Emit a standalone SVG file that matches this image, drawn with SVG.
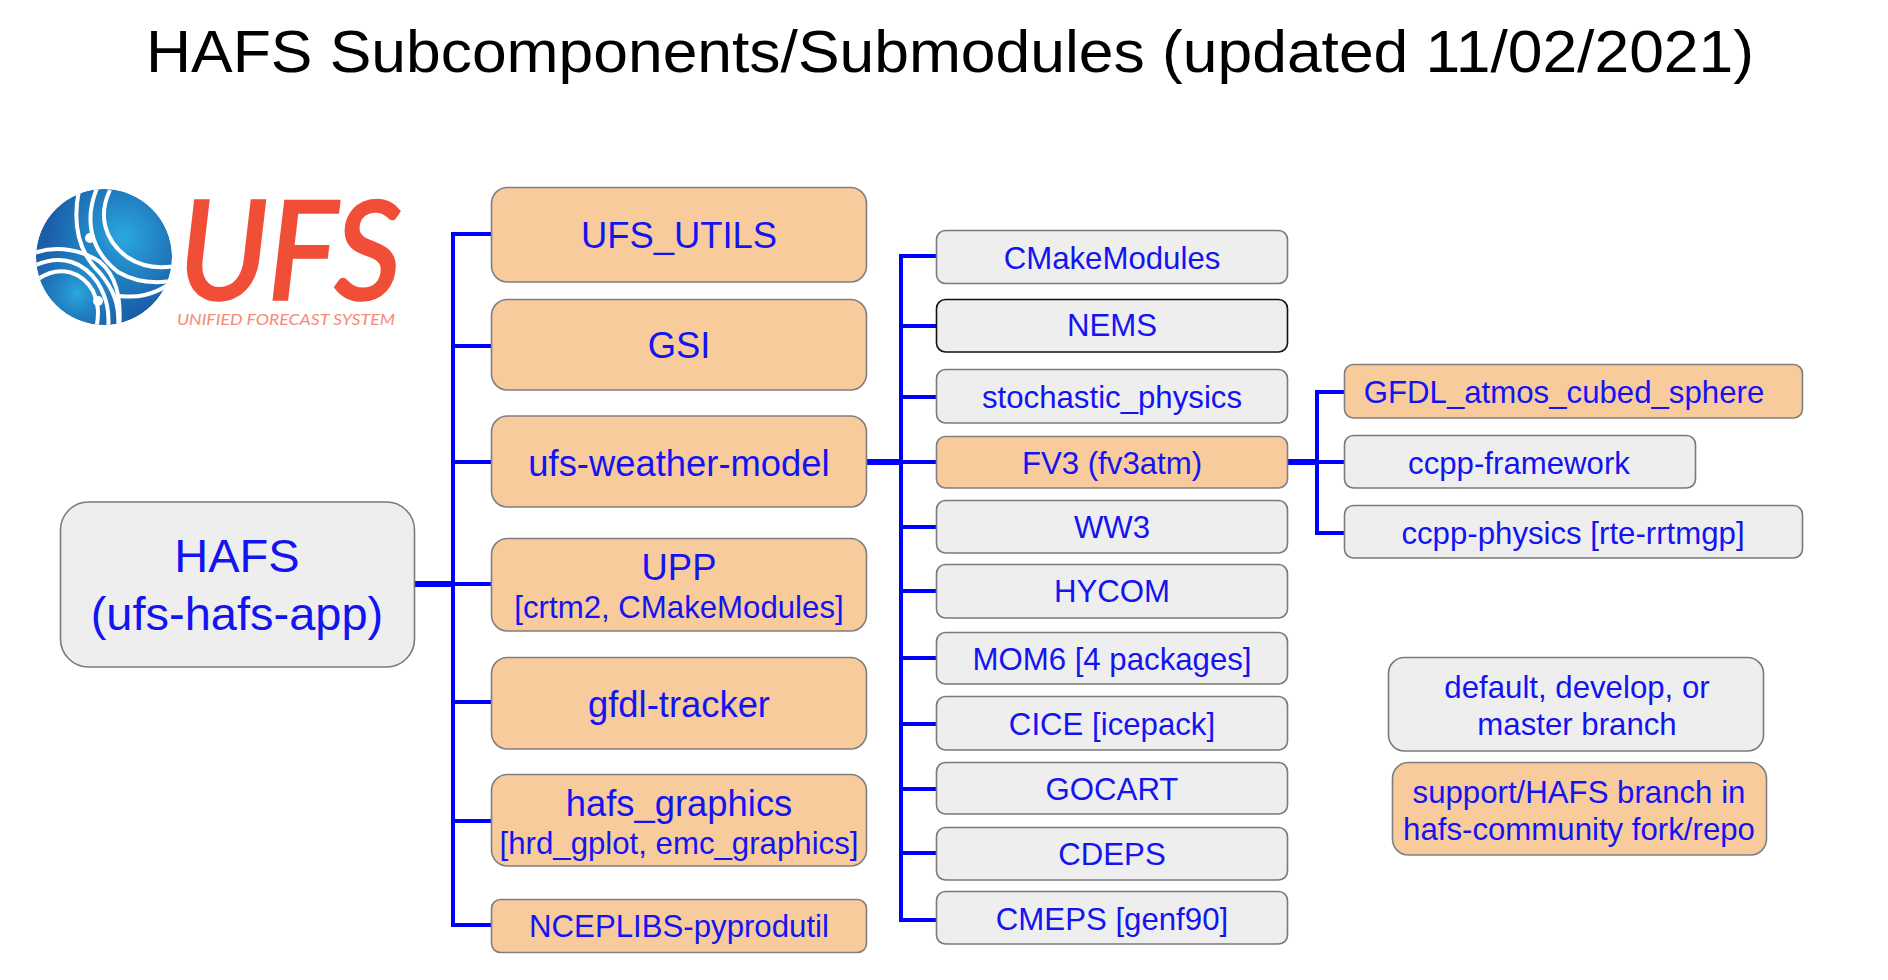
<svg xmlns="http://www.w3.org/2000/svg" width="1888" height="980" viewBox="0 0 1888 980">
<style>
text{font-family:"Liberation Sans",Arial,sans-serif;fill:#1414f0;text-anchor:middle}
.g{fill:#eeeeee;stroke:#7a7a7a;stroke-width:1.6}
.o{fill:#f8cb9c;stroke:#7f7f7f;stroke-width:1.6}
.c{fill:none;stroke:#0000ff;stroke-width:4}
.t{fill:none;stroke:#0000ff;stroke-width:6}
.a{fill:none;stroke:#fff;stroke-width:4}
.s{font-size:31.2px}.m{font-size:36.4px}.l{font-size:47px}
</style>
<defs>
<radialGradient id="g1" gradientUnits="userSpaceOnUse" cx="123" cy="237" r="75"><stop offset="0" stop-color="#2aa8df"/><stop offset="1" stop-color="#1a5ea8"/></radialGradient>
<radialGradient id="g2" gradientUnits="userSpaceOnUse" cx="77" cy="293" r="62"><stop offset="0" stop-color="#2aa8df"/><stop offset="1" stop-color="#1c6cb4" stop-opacity="0"/></radialGradient>
<clipPath id="gc"><circle cx="104" cy="257" r="68"/></clipPath>
</defs>
<rect width="1888" height="980" fill="#fff"/>
<text x="950" y="72" font-size="60" style="fill:#000" textLength="1608" lengthAdjust="spacingAndGlyphs">HAFS Subcomponents/Submodules (updated 11/02/2021)</text>
<g id="logo">
<g clip-path="url(#gc)">
<circle cx="104" cy="257" r="68" fill="url(#g1)"/>
<circle cx="104" cy="257" r="68" fill="url(#g2)"/>
<path class="a" d="M110 190C98 215 104 240 127 257C142 267 158 269 175 266"/>
<path class="a" d="M97 188C84 220 90 250 118 272C135 282 152 284 172 281"/>
<path class="a" d="M79 190C72 225 78 252 100 273C114 290 120 305 118 330"/>
<path class="a" d="M34 253C58 245 82 250 100 262C115 275 122 295 119 330"/>
<path class="a" d="M36 265C62 254 84 262 98 283C106 297 110 310 108 330"/>
<path class="a" d="M38 279C60 264 82 272 93 291C99 304 99 315 96 330"/>
<path class="a" d="M120 296C138 298 152 295 168 285"/>
<circle cx="90" cy="238" r="5" fill="#fff"/>
<circle cx="98" cy="301" r="5" fill="#fff"/>
</g>
<text x="290" y="299" font-size="136" font-style="italic" stroke="#f04e37" stroke-width="3.5" style="font-family:Lato,'Liberation Sans',sans-serif;fill:#f04e37" textLength="222" lengthAdjust="spacingAndGlyphs">UFS</text>
<text x="286" y="325" font-size="15.5" font-style="italic" style="font-family:Lato,'Liberation Sans',sans-serif;fill:#f58a78" textLength="218" lengthAdjust="spacingAndGlyphs">UNIFIED FORECAST SYSTEM</text>
</g>
<g id="connectors">
<path class="c" d="M491 234H453V925H491M453 346H491M453 462H491M453 584H491M453 702H491M453 821H491"/>
<path class="t" d="M414 584H453"/>
<path class="c" d="M936 256H901V920H936M901 326H936M901 397H936M901 462H936M901 527H936M901 591H936M901 658H936M901 724H936M901 789H936M901 853H936"/>
<path class="t" d="M866 462H901"/>
<path class="c" d="M1344 392H1317V533H1344M1317 462H1344"/>
<path class="t" d="M1287 462H1317"/>
</g>
<g id="n-hafs"><rect class="g" x="60.500" y="502" width="354" height="165" rx="28"/><text class="l" x="237" y="572">HAFS</text><text class="l" x="237" y="630">(ufs-hafs-app)</text></g>
<g id="n-ufs-utils"><rect class="o" x="491.500" y="187.500" width="375" height="94.500" rx="16"/><text class="m" x="679" y="248">UFS_UTILS</text></g>
<g id="n-gsi"><rect class="o" x="491.500" y="299.500" width="375" height="90.500" rx="16"/><text class="m" x="679" y="358">GSI</text></g>
<g id="n-ufs-weather-model"><rect class="o" x="491.500" y="416" width="375" height="91" rx="16"/><text class="m" x="679" y="476">ufs-weather-model</text></g>
<g id="n-upp"><rect class="o" x="491.500" y="538.500" width="375" height="92.500" rx="16"/><text class="m" x="679" y="580">UPP</text><text class="s" x="679" y="618">[crtm2, CMakeModules]</text></g>
<g id="n-gfdl-tracker"><rect class="o" x="491.500" y="657.500" width="375" height="91.500" rx="16"/><text class="m" x="679" y="717">gfdl-tracker</text></g>
<g id="n-hafs-graphics"><rect class="o" x="491.500" y="774.500" width="375" height="91.500" rx="16"/><text class="m" x="679" y="816">hafs_graphics</text><text class="s" x="679" y="854">[hrd_gplot, emc_graphics]</text></g>
<g id="n-nceplibs"><rect class="o" x="491.500" y="899.500" width="375" height="53" rx="9"/><text class="s" x="679" y="937">NCEPLIBS-pyprodutil</text></g>
<g id="n-cmakemodules"><rect class="g" x="936.500" y="230.500" width="351" height="53" rx="9"/><text class="s" x="1112" y="268.500">CMakeModules</text></g>
<g id="n-nems"><rect class="g" x="936.500" y="299.500" width="351" height="52.500" rx="9" style="stroke:#111"/><text class="s" x="1112" y="336">NEMS</text></g>
<g id="n-stochastic"><rect class="g" x="936.500" y="369.500" width="351" height="53.500" rx="9"/><text class="s" x="1112" y="408">stochastic_physics</text></g>
<g id="n-fv3"><rect class="o" x="936.500" y="436.500" width="351" height="51.500" rx="9"/><text class="s" x="1112" y="473.500">FV3 (fv3atm)</text></g>
<g id="n-ww3"><rect class="g" x="936.500" y="500.500" width="351" height="52.500" rx="9"/><text class="s" x="1112" y="538">WW3</text></g>
<g id="n-hycom"><rect class="g" x="936.500" y="564.500" width="351" height="53.500" rx="9"/><text class="s" x="1112" y="602">HYCOM</text></g>
<g id="n-mom6"><rect class="g" x="936.500" y="632.500" width="351" height="51.500" rx="9"/><text class="s" x="1112" y="670">MOM6 [4 packages]</text></g>
<g id="n-cice"><rect class="g" x="936.500" y="696.500" width="351" height="53.500" rx="9"/><text class="s" x="1112" y="735">CICE [icepack]</text></g>
<g id="n-gocart"><rect class="g" x="936.500" y="762.500" width="351" height="51.500" rx="9"/><text class="s" x="1112" y="800">GOCART</text></g>
<g id="n-cdeps"><rect class="g" x="936.500" y="827.500" width="351" height="52.500" rx="9"/><text class="s" x="1112" y="865">CDEPS</text></g>
<g id="n-cmeps"><rect class="g" x="936.500" y="891.500" width="351" height="52.500" rx="9"/><text class="s" x="1112" y="930">CMEPS [genf90]</text></g>
<g id="n-gfdl-atmos"><rect class="o" x="1344.500" y="364.500" width="458" height="53.500" rx="9"/><text class="s" x="1564" y="403">GFDL_atmos_cubed_sphere</text></g>
<g id="n-ccpp-framework"><rect class="g" x="1344.500" y="435.500" width="351" height="52.500" rx="9"/><text class="s" x="1519" y="473.500">ccpp-framework</text></g>
<g id="n-ccpp-physics"><rect class="g" x="1344.500" y="505.500" width="458" height="52.500" rx="9"/><text class="s" x="1573" y="544">ccpp-physics [rte-rrtmgp]</text></g>
<g id="n-legend-default"><rect class="g" x="1388.500" y="657.500" width="375" height="93.500" rx="16"/><text class="s" x="1577" y="698">default, develop, or</text><text class="s" x="1577" y="735">master branch</text></g>
<g id="n-legend-support"><rect class="o" x="1392.500" y="762.500" width="374" height="92.500" rx="16"/><text class="s" x="1579" y="803">support/HAFS branch in</text><text class="s" x="1579" y="840">hafs-community fork/repo</text></g>
</svg>
